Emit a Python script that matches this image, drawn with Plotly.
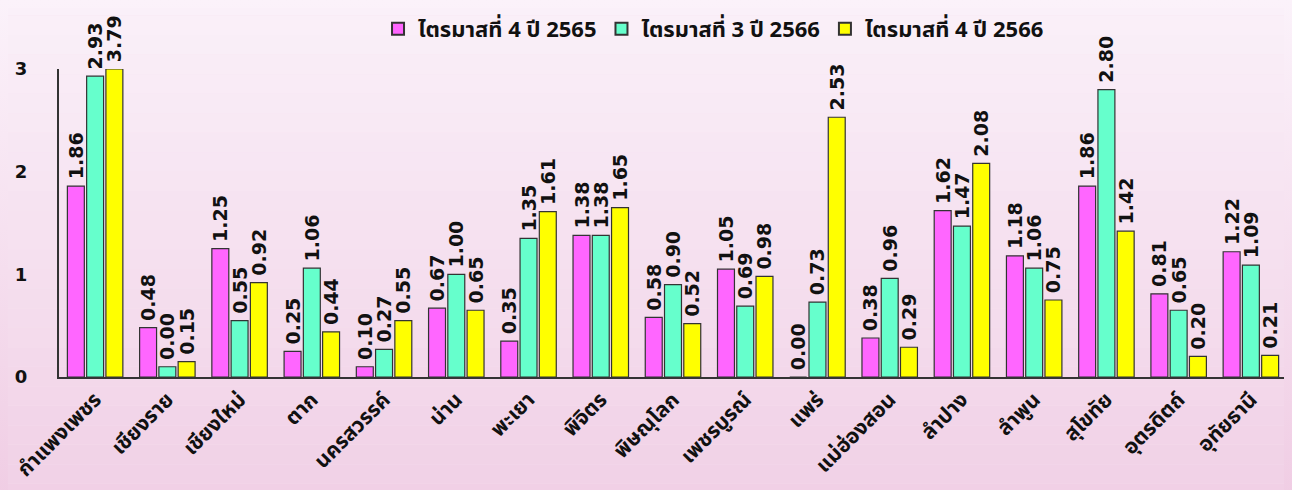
import plotly.graph_objects as go
import numpy as np

categories = ["กำแพงเพชร", "เชียงราย", "เชียงใหม่", "ตาก", "นครสวรรค์", "น่าน", "พะเยา", "พิจิตร",
              "พิษณุโลก", "เพชรบูรณ์", "แพร่", "แม่ฮ่องสอน", "ลำปาง", "ลำพูน", "สุโขทัย", "อุตรดิตถ์", "อุทัยธานี"]
series_names = ["ไตรมาสที่ 4 ปี 2565", "ไตรมาสที่ 3 ปี 2566", "ไตรมาสที่ 4 ปี 2566"]

q4_2565 = [1.86, 0.48, 1.25, 0.25, 0.10, 0.67, 0.35, 1.38, 0.58, 1.05, 0.00, 0.38, 1.62, 1.18, 1.86, 0.81, 1.22]
q3_2566 = [2.93, 0.10, 0.55, 1.06, 0.27, 1.00, 1.35, 1.38, 0.90, 0.69, 0.73, 0.96, 1.47, 1.06, 2.80, 0.65, 1.09]
q4_2566 = [3.79, 0.15, 0.92, 0.44, 0.55, 0.65, 1.61, 1.65, 0.52, 0.98, 2.53, 0.29, 2.08, 0.75, 1.42, 0.20, 0.21]

lbl_q4_2565 = ["1.86", "0.48", "1.25", "0.25", "0.10", "0.67", "0.35", "1.38", "0.58", "1.05", "0.00", "0.38", "1.62", "1.18", "1.86", "0.81", "1.22"]
lbl_q3_2566 = ["2.93", "0.00", "0.55", "1.06", "0.27", "1.00", "1.35", "1.38", "0.90", "0.69", "0.73", "0.96", "1.47", "1.06", "2.80", "0.65", "1.09"]
lbl_q4_2566 = ["3.79", "0.15", "0.92", "0.44", "0.55", "0.65", "1.61", "1.65", "0.52", "0.98", "2.53", "0.29", "2.08", "0.75", "1.42", "0.20", "0.21"]

y_ticks = [0, 1, 2, 3]
y_max = 3

colors = ["#ff66ff", "#66ffcc", "#ffff00"]
all_vals = [q4_2565, q3_2566, q4_2566]
all_lbls = [lbl_q4_2565, lbl_q3_2566, lbl_q4_2566]

fig = go.Figure()
for name, vals, lbls, col in zip(series_names, all_vals, all_lbls, colors):
    shown = np.minimum(np.array(vals), y_max)
    fig.add_trace(go.Bar(
        x=categories, y=shown, name=name, text=lbls,
        texttemplate="\u2009%{text}",
        textposition="outside", textangle=-90, cliponaxis=False, constraintext="none",
        textfont=dict(family="DejaVu Sans", size=19, color="#111111", weight="bold"),
        marker=dict(color=col, line=dict(color="#333333", width=1.2)),
    ))

# soft pink vertical gradient background
shapes = []
n = 30
top = np.array([251, 242, 250])
bot = np.array([240, 205, 228])
for i in range(n):
    t = i / (n - 1)
    c = top + (bot - top) * t
    shapes.append(dict(type="rect", xref="paper", yref="paper", layer="below",
                       x0=-0.1, x1=1.1, y0=1.3 - (i + 1) * 1.9 / n, y1=1.3 - i * 1.9 / n,
                       line=dict(width=0),
                       fillcolor="rgb(%d,%d,%d)" % tuple(c.astype(int))))

fig.update_layout(
    width=1284, height=482,
    margin=dict(l=51, r=5, t=61, b=113, autoexpand=False),
    paper_bgcolor="#f6e3f0", plot_bgcolor="rgba(0,0,0,0)",
    barmode="group", bargap=0.2, bargroupgap=0.12,
    shapes=shapes,
    showlegend=True,
    legend=dict(orientation="h", x=0.533, xanchor="center", y=1.0, yanchor="top",
                yref="container", bgcolor="rgba(0,0,0,0)",
                font=dict(family="Noto Sans Thai, Noto Sans, sans-serif", size=22, color="#111111", weight="bold"),
                itemwidth=30, tracegroupgap=0, itemsizing="constant"),
    xaxis=dict(showline=True, linecolor="#333333", linewidth=2, tickangle=-45, automargin=False,
               tickfont=dict(family="Noto Sans Thai, Noto Sans, sans-serif", size=21, color="#111111", weight="bold"),
               ticks="", showgrid=False),
    yaxis=dict(range=[0, y_max], tickvals=y_ticks, showline=True, linecolor="#333333", linewidth=2,
               showgrid=False, zeroline=False, ticks="", ticklabelstandoff=26, automargin=False,
               tickfont=dict(family="DejaVu Sans", size=18, color="#111111", weight="bold")),
)

fig.write_html("out.html",
               post_script="document.body.style.background='linear-gradient(#fbf2fa, #f0cde4)';")
